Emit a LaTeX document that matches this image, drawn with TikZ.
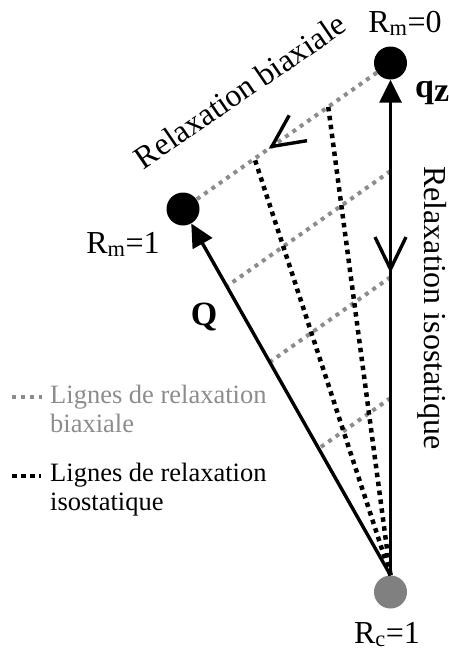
\documentclass[tikz,border=0pt]{standalone}
\usepackage{fontspec}
\setmainfont{Liberation Serif}
\usepackage{tikz}
\usetikzlibrary{arrows.meta,calc,decorations.markings}
\definecolor{RelaxGray}{HTML}{8C8C8C}
\definecolor{CrustGray}{HTML}{808080}
\tikzset{
  state/.style={circle, fill=black, minimum size=33pt, inner sep=0pt},
  crust/.style={state, fill=CrustGray},
  vec/.style={line width=3.4pt, -{Triangle[length=23pt, width=22pt]}},
  biax/.style={draw=RelaxGray, line width=4pt, dash pattern=on 4pt off 5pt},
  iso/.style={draw=black, line width=4.5pt, dash pattern=on 4.5pt off 4.5pt},
  vbarb/.tip={Straight Barb[length=32pt, width=31pt, line width=3.4pt, color=black]},
  midtip/.style={postaction={decorate, decoration={markings,
    mark=at position #1 with {\arrow{vbarb}}}}},
  midtiprev/.style={postaction={decorate, decoration={markings,
    mark=at position #1 with {\arrowreversed{vbarb}}}}},
  lbl/.style={font=\fontsize{32}{36}\selectfont, inner sep=0pt},
  boldlbl/.style={font=\fontsize{34}{38}\selectfont\bfseries, inner sep=0pt},
  legendtext/.style={font=\fontsize{26.5}{29}\selectfont, align=left,
    inner sep=0pt, anchor=north west}
}

\begin{document}
\begin{tikzpicture}[x=1pt, y=-1pt]
  \useasboundingbox (0,0) rectangle (448,653);
  \node[state] (top) at (390.5,63) {};
  \node[state] (rm1) at (183,209) {};
  \node[crust] (rc) at (390.5,592) {};
  \coordinate (i1) at ($(top)!0.3!(rm1)$);
  \coordinate (i2) at ($(top)!0.655!(rm1)$);
  \draw[biax, midtip=0.6] (top) -- (rm1);
  \foreach \s/\n in {0.789/a, 0.582/b, 0.346/c} {
    \coordinate (v\n) at ($(rc.north)!\s!(top)$);
    \coordinate (q\n) at ($(rc.north)!\s!(rm1)$);
    \draw[biax] (v\n) -- (q\n);
  }
  \draw[iso] (rc.north) -- (i1);
  \draw[iso] (rc.north) -- (i2);
  \draw[vec, midtiprev=0.61] (rc.north) -- (top);
  \draw[vec] (rc.north) -- (rm1);
  \node[lbl, anchor=base] (rm0lbl) at (405,32) {R\textsubscript{m}=0};
  \node[lbl, anchor=base] (rm1lbl) at (123,253) {R\textsubscript{m}=1};
  \node[lbl, anchor=base] (rclbl) at (387,643) {R\textsubscript{c}=1};
  \node[lbl, anchor=base, rotate=34.4] (biaxlbl) at (246,100) {Relaxation biaxiale};
  \node[lbl, anchor=base, rotate=-90] (isolbl) at (424,308) {Relaxation isostatique};
  \node[boldlbl, anchor=base] (qlbl) at (204,325) {Q};
  \node[boldlbl, anchor=base west] (qzlbl) at (415,97) {q\raisebox{-4pt}{z}};
  \node[legendtext, text=RelaxGray] (legb) at (50,385) {Lignes de relaxation\\biaxiale};
  \node[legendtext] (legi) at (50,463) {Lignes de relaxation\\isostatique};
  \draw[biax] ($(legb.north west)+(-38,12)$) -- ++(30,0);
  \draw[iso] ($(legi.north west)+(-38,13)$) -- ++(29,0);
\end{tikzpicture}
\end{document}
